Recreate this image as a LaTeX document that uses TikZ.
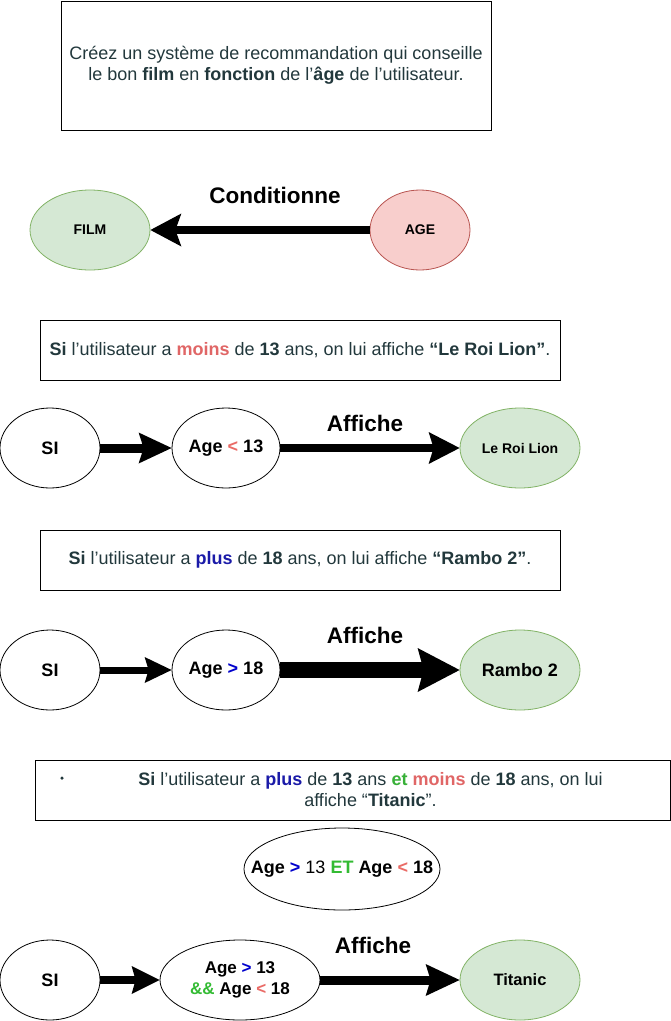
\documentclass[tikz,border=0pt]{standalone}
\usepackage{fontspec}
\setmainfont{Liberation Sans}
\usetikzlibrary{shapes.geometric,arrows.meta}
\definecolor{txt}{HTML}{22383C}
\definecolor{moinsc}{HTML}{E06666}
\definecolor{plusc}{HTML}{1A1AA8}
\definecolor{etc}{HTML}{38B038}
\definecolor{ltc}{HTML}{EA6B66}
\definecolor{gtc}{HTML}{0000CC}
\definecolor{andc}{HTML}{33BB33}
\definecolor{gfill}{HTML}{D5E8D4}
\definecolor{gdraw}{HTML}{82B366}
\definecolor{rfill}{HTML}{F8CECC}
\definecolor{rdraw}{HTML}{B85450}
\tikzset{
  box/.style={draw=black, line width=1pt, rectangle, inner sep=0pt, align=center, text=txt,
    font=\fontsize{18}{21}\selectfont},
  oval/.style={draw=black, line width=0.8pt, ellipse, inner sep=0pt, minimum height=80pt, fill=white,
    font=\fontsize{18}{22}\selectfont\bfseries, align=center},
  goval/.style={oval, draw=gdraw, fill=gfill},
  roval/.style={oval, draw=rdraw, fill=rfill},
  lbl/.style={font=\fontsize{22.5}{26}\selectfont\bfseries, inner sep=0pt},
  conn/.style={draw=black, line cap=butt},
}
\newcommand{\tipS}[3]{-{Stealth[length=#1pt,width=#2pt,inset=#3pt,line width=0pt]}}
\begin{document}
\begin{tikzpicture}[x=1pt,y=-1pt]
\useasboundingbox (0,0) rectangle (671,1021);
% top box
\node[box, minimum width=430pt, minimum height=129pt] (intro) at (276,65.5)
  {Créez un système de recommandation qui conseille\\
   le bon \textbf{film} en \textbf{fonction} de l’\textbf{âge} de l’utilisateur.};
% film / age
\node[goval, minimum width=120pt, font=\fontsize{14}{16}\selectfont\bfseries] (film) at (90,230) {FILM};
\node[roval, minimum width=100pt, font=\fontsize{14}{16}\selectfont\bfseries] (age) at (420,230) {AGE};
\draw[conn, line width=8.5pt, \tipS{31}{33}{6}] (age.west) -- (film.east);
\node[lbl] (cond) at (275,195) {Conditionne};
% section 1
\node[box, minimum width=520pt, minimum height=60pt] (q1) at (300,350)
  {\textbf{Si} l’utilisateur a \textcolor{moinsc}{\textbf{moins}} de \textbf{13} ans, on lui affiche \textbf{“Le Roi Lion”}.};
\node[oval, minimum width=100pt] (si1) at (50,448) {SI};
\node[oval, minimum width=108pt] (c1) at (226,448) {Age \textcolor{ltc}{<} 13};
\node[goval, minimum width=120pt, font=\fontsize{14}{16}\selectfont\bfseries] (f1) at (520,448) {Le Roi Lion};
\draw[conn, line width=9pt, \tipS{33}{31}{5}] (si1.east) -- (c1.west);
\draw[conn, line width=8pt, \tipS{31}{32}{5}] (c1.east) -- (f1.west);
\node[lbl] (aff1) at (365,423) {Affiche};
% section 2
\node[box, minimum width=520pt, minimum height=60pt] (q2) at (300,560)
  {\textbf{Si} l’utilisateur a \textcolor{plusc}{\textbf{plus}} de \textbf{18} ans, on lui affiche \textbf{“Rambo 2”}.};
\node[oval, minimum width=100pt] (si2) at (50,670) {SI};
\node[oval, minimum width=108pt] (c2) at (226,670) {Age \textcolor{gtc}{>} 18};
\node[goval, minimum width=120pt] (f2) at (520,670) {Rambo 2};
\draw[conn, line width=7pt, \tipS{27}{26}{4}] (si2.east) -- (c2.west);
\draw[conn, line width=16pt, \tipS{42}{44}{6}] (c2.east) -- (f2.west);
\node[lbl] (aff2) at (365,635) {Affiche};
% section 3
\node[box, minimum width=635pt, minimum height=60pt] (q3) at (352.5,790)
  {\hspace*{36pt}\textbf{Si} l’utilisateur a \textcolor{plusc}{\textbf{plus}} de \textbf{13} ans \textcolor{etc}{\textbf{et}} \textcolor{moinsc}{\textbf{moins}} de \textbf{18} ans, on lui\\
   \hspace*{36pt}affiche “\textbf{Titanic}”.};
\node[circle, fill=txt, inner sep=0pt, minimum size=3.5pt] (bul) at (62,778) {};
\node[oval, minimum width=196pt, minimum height=82pt] (et) at (342,869) {};
\node[font=\fontsize{18}{22}\selectfont\bfseries, inner sep=0pt] (etlbl) at (et.center)
  {Age \textcolor{gtc}{>} \textmd{13} \textcolor{andc}{ET} Age \textcolor{ltc}{<} 18};
\node[oval, minimum width=160pt, font=\fontsize{17}{21}\selectfont\bfseries] (c3) at (240,980)
  {Age \textcolor{gtc}{>} 13\\ \textcolor{andc}{\&\&} Age \textcolor{ltc}{<} 18};
\node[oval, minimum width=100pt] (si3) at (50,980) {SI};
\node[goval, minimum width=120pt, font=\fontsize{16.5}{20}\selectfont\bfseries] (f3) at (520,980) {Titanic};
\draw[conn, line width=7.5pt, \tipS{28}{28}{4}] (si3.east) -- (c3.west);
\draw[conn, line width=9pt, \tipS{34}{32}{5}] (c3.east) -- (f3.west);
\node[lbl] (aff3) at (373,945) {Affiche};
\end{tikzpicture}
\end{document}
